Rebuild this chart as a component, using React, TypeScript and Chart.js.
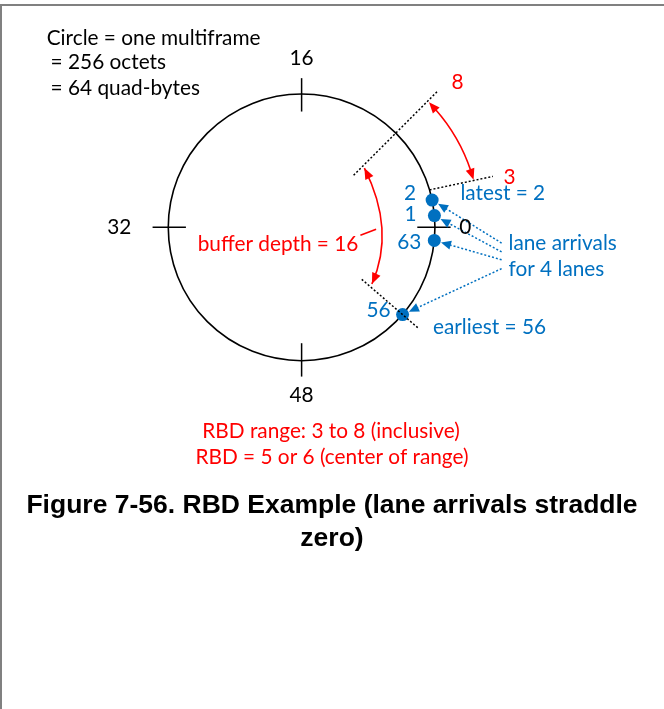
import React, { useEffect, useRef } from 'react';
import { Chart, registerables } from 'chart.js';

Chart.register(...registerables);

// Ring positions are in quad-bytes (0..63), counter-clockwise from the right (0)
const RING_SIZE = 64;
const tickPositions = [0, 16, 32, 48];
const tickLabels = ['0', '16', '32', '48'];
const laneLabels = ['2', '1', '63', '56'];
const lanePositions = [2.1, 0.9, 63.0, 56.75];
const rangeLabels = ['8', '3'];
const rangePositions = [8, 3];
const bufferLabel = 'buffer depth = 16';
const latestLabel = 'latest = 2';
const earliestLabel = 'earliest = 56';
const arrivalLines = ['lane arrivals', 'for 4 lanes'];
const noteLines = ['Circle = one multiframe', '= 256 octets', '= 64 quad-bytes'];
const rbdLines = ['RBD range: 3 to 8 (inclusive)', 'RBD = 5 or 6 (center of range)'];
const titleLines = ['Figure 7-56. RBD Example (lane arrivals straddle', 'zero)'];

const RADIUS = 136;
const BLUE = '#0070C0';
const RED = '#FF0000';
const FONT = 'Lato, "Open Sans", sans-serif';
const TEXT_FONT = `20.8px ${FONT}`;
const TITLE_FONT = `bold 26.5px "Liberation Sans", Arial, sans-serif`;

const ang = (pos: number) => (pos / RING_SIZE) * Math.PI * 2;

const diagramPlugin = {
  id: 'diagram',
  beforeDatasetsDraw(chart: any) {
    const { ctx } = chart;
    const sx = chart.scales.x;
    const sy = chart.scales.y;
    const px = (v: number) => sx.getPixelForValue(v);
    const py = (v: number) => sy.getPixelForValue(v);
    const polar = (pos: number, r: number) => [px(r * Math.cos(ang(pos))), py(r * Math.sin(ang(pos)))];
    const line = (a: number[], b: number[]) => {
      ctx.beginPath();
      ctx.moveTo(a[0], a[1]);
      ctx.lineTo(b[0], b[1]);
      ctx.stroke();
    };
    const head = (tip: number[], from: number[], color: string, len = 11, wid = 4.5) => {
      const dx = tip[0] - from[0];
      const dy = tip[1] - from[1];
      const d = Math.hypot(dx, dy) || 1;
      const ux = dx / d, uy = dy / d;
      ctx.save();
      ctx.fillStyle = color;
      ctx.beginPath();
      ctx.moveTo(tip[0], tip[1]);
      ctx.lineTo(tip[0] - ux * len - uy * wid, tip[1] - uy * len + ux * wid);
      ctx.lineTo(tip[0] - ux * len + uy * wid, tip[1] - uy * len - ux * wid);
      ctx.closePath();
      ctx.fill();
      ctx.restore();
    };
    const cx = px(0), cy = py(0);
    const rPx = px(RADIUS) - px(0);

    ctx.save();
    // frame
    ctx.fillStyle = '#808080';
    ctx.fillRect(0, 4, chart.width, 2);
    ctx.fillRect(0, 4, 2, chart.height - 4);

    // ring
    ctx.strokeStyle = '#000';
    ctx.lineWidth = 1.6;
    ctx.beginPath();
    ctx.arc(cx, cy, rPx, 0, Math.PI * 2);
    ctx.stroke();

    // ticks
    ctx.lineWidth = 1.5;
    tickPositions.forEach((p) => line(polar(p, 118), polar(p, 152)));

    // dashed boundary lines
    ctx.setLineDash([2, 2]);
    ctx.lineWidth = 1.5;
    line(polar(rangePositions[0], 75), polar(rangePositions[0], 197));
    line(polar(rangePositions[1] - 0.1, 136), polar(rangePositions[1] - 0.35, 202));
    ctx.setLineDash([]);

    // red arc 8 -> 3
    ctx.strokeStyle = RED;
    ctx.lineWidth = 1.6;
    const rr = px(182) - px(0);
    const a8 = ang(rangePositions[0] - 0.1);
    const a3 = ang(rangePositions[1] - 0.25);
    ctx.beginPath();
    ctx.arc(cx, cy, rr, -a8 + 0.05, -a3 - 0.05, false);
    ctx.stroke();
    head(polar(rangePositions[0] - 0.1, 182), polar(rangePositions[0] - 1.2, 182), RED);
    head(polar(rangePositions[1] - 0.25, 182), polar(rangePositions[1] + 0.85, 182), RED);

    // buffer depth arc (8 -> 56)
    const p0 = polar(7.7, 88);
    const p2 = polar(57.1, 92);
    const cp = [px(96), py(-3)];
    ctx.beginPath();
    ctx.moveTo(p0[0], p0[1]);
    ctx.quadraticCurveTo(cp[0], cp[1], p2[0], p2[1]);
    ctx.stroke();
    head(p0, cp, RED);
    head(p2, cp, RED);
    // leader line
    line([px(60), py(-8)], [px(76), py(-2)]);
    ctx.restore();
  },
  afterDatasetsDraw(chart: any) {
    const { ctx } = chart;
    const sx = chart.scales.x;
    const sy = chart.scales.y;
    const px = (v: number) => sx.getPixelForValue(v);
    const py = (v: number) => sy.getPixelForValue(v);
    const polar = (pos: number, r: number) => [px(r * Math.cos(ang(pos))), py(r * Math.sin(ang(pos)))];
    const line = (a: number[], b: number[]) => {
      ctx.beginPath();
      ctx.moveTo(a[0], a[1]);
      ctx.lineTo(b[0], b[1]);
      ctx.stroke();
    };
    const head = (tip: number[], from: number[], color: string, len = 10, wid = 4.5) => {
      const dx = tip[0] - from[0];
      const dy = tip[1] - from[1];
      const d = Math.hypot(dx, dy) || 1;
      const ux = dx / d, uy = dy / d;
      ctx.fillStyle = color;
      ctx.beginPath();
      ctx.moveTo(tip[0], tip[1]);
      ctx.lineTo(tip[0] - ux * len - uy * wid, tip[1] - uy * len + ux * wid);
      ctx.lineTo(tip[0] - ux * len + uy * wid, tip[1] - uy * len - ux * wid);
      ctx.closePath();
      ctx.fill();
    };
    const text = (s: string, x: number, y: number, color: string, align: CanvasTextAlign = 'center', font = TEXT_FONT) => {
      ctx.font = font;
      ctx.fillStyle = color;
      ctx.textAlign = align;
      ctx.textBaseline = 'middle';
      ctx.fillText(s, x, y);
    };
    ctx.save();

    // dashed line through earliest arrival
    ctx.strokeStyle = '#000';
    ctx.lineWidth = 1.5;
    ctx.setLineDash([2, 2]);
    line(polar(lanePositions[3], 81), polar(lanePositions[3], 158));

    // blue dotted arrows from the "lane arrivals" note to each dot
    ctx.strokeStyle = BLUE;
    const starts = [[204, -16], [204, -25], [204, -33], [204, -42]];
    lanePositions.forEach((p, i) => {
      const dot = polar(p, RADIUS);
      const s = [px(starts[i][0]), py(starts[i][1])];
      const dx = s[0] - dot[0], dy = s[1] - dot[1];
      const d = Math.hypot(dx, dy);
      const tip = [dot[0] + (dx / d) * 7, dot[1] + (dy / d) * 7];
      ctx.setLineDash([2, 2]);
      line(s, [tip[0] + (dx / d) * 6, tip[1] + (dy / d) * 6]);
      ctx.setLineDash([]);
      head(tip, s, BLUE);
    });
    ctx.setLineDash([]);

    // tick labels
    const tickLabelR = [167, 172, 186, 171];
    tickPositions.forEach((p, i) => {
      const q = polar(p, tickLabelR[i]);
      text(tickLabels[i], q[0], q[1], '#000');
    });

    // lane labels
    const laneOff = [[-22, -7], [-24, -1], [-25, 2], [-24, -4]];
    lanePositions.forEach((p, i) => {
      const q = polar(p, RADIUS);
      text(laneLabels[i], q[0] + laneOff[i][0], q[1] + laneOff[i][1], BLUE);
    });

    // blue notes
    text(latestLabel, px(162), py(35), BLUE, 'left');
    text(arrivalLines[0], px(211), py(-16), BLUE, 'left');
    text(arrivalLines[1], px(211), py(-43), BLUE, 'left');
    text(earliestLabel, px(134), py(-102), BLUE, 'left');

    // red labels
    text(rangeLabels[0], px(159), py(148), RED);
    text(rangeLabels[1], px(212), py(51), RED);
    text(bufferLabel, px(-106), py(-17), RED, 'left');
    text(rbdLines[0], px(30), py(-208), RED);
    text(rbdLines[1], px(31), py(-234), RED);

    // notes top-left
    text(noteLines[0], px(-260), py(193), '#000', 'left');
    text(noteLines[1], px(-256), py(168), '#000', 'left');
    text(noteLines[2], px(-256), py(142), '#000', 'left');

    // title
    text(titleLines[0], px(31), py(-284), '#000', 'center', TITLE_FONT);
    text(titleLines[1], px(31), py(-317), '#000', 'center', TITLE_FONT);

    ctx.restore();
  },
};

export default function App() {
  const ref = useRef<HTMLCanvasElement>(null);
  useEffect(() => {
    document.body.style.margin = '0';
    const canvas = ref.current!;
    const chart = new Chart(canvas, {
      type: 'scatter',
      data: {
        datasets: [
          {
            label: 'lane arrivals',
            data: lanePositions.map((p) => ({ x: RADIUS * Math.cos(ang(p)), y: RADIUS * Math.sin(ang(p)) })),
            backgroundColor: BLUE,
            borderColor: BLUE,
            borderWidth: 0,
            pointRadius: 6.5,
            pointHoverRadius: 6.5,
          },
        ],
      },
      options: {
        responsive: false,
        animation: false,
        devicePixelRatio: 1,
        events: [],
        layout: { padding: 0 },
        plugins: { legend: { display: false }, tooltip: { enabled: false }, title: { display: false } },
        scales: {
          x: { type: 'linear', min: -301, max: 363, display: false },
          y: { type: 'linear', min: -484, max: 225, display: false },
        },
      },
      plugins: [diagramPlugin],
    });
    return () => chart.destroy();
  }, []);
  return (
    <div style={{ width: 664, height: 709, background: '#fff' }}>
      <canvas ref={ref} width={664} height={709} style={{ display: 'block' }} />
    </div>
  );
}
